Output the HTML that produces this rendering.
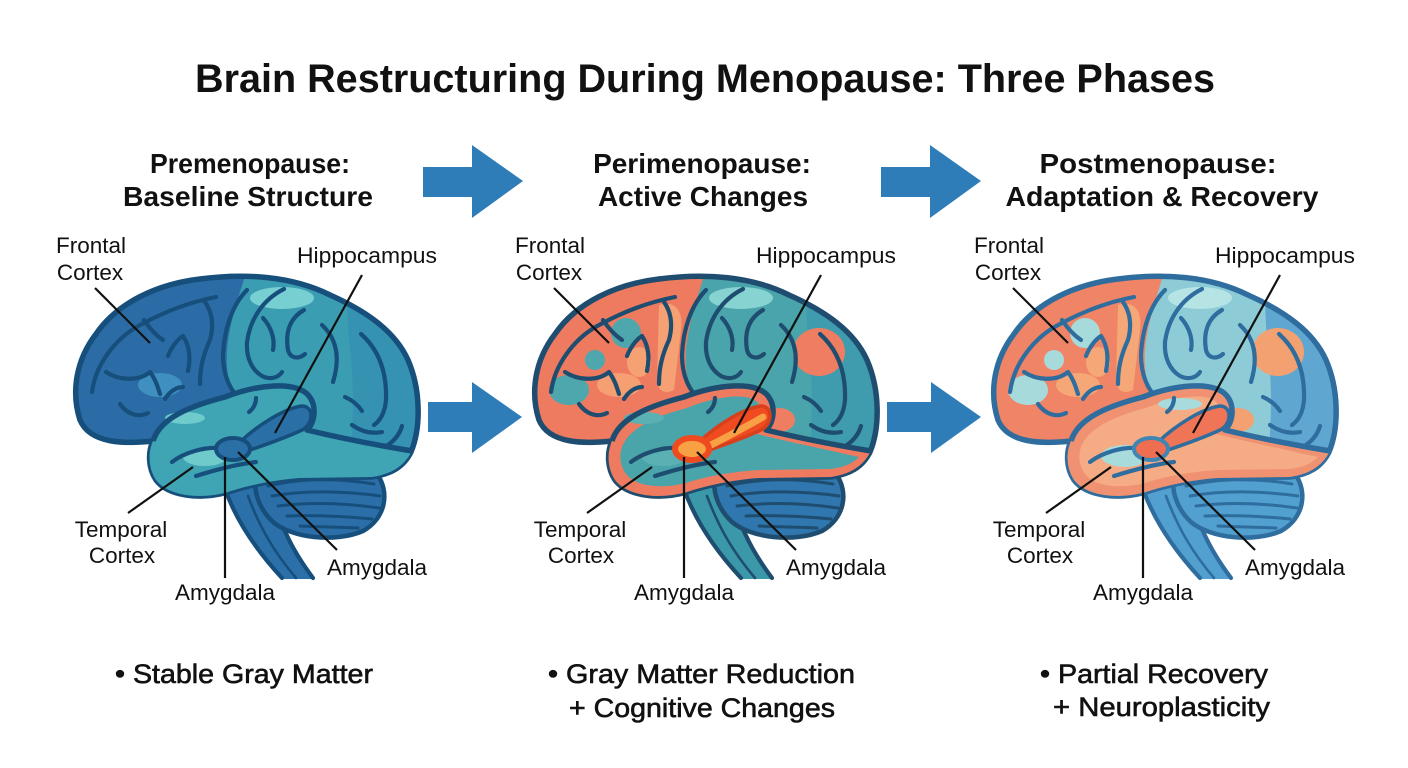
<!DOCTYPE html>
<html><head><meta charset="utf-8"><style>
html,body{margin:0;padding:0;background:#fff;}
svg{display:block;}
text{font-family:"Liberation Sans",Arial,sans-serif;fill:#111;}
.ln{fill:none;stroke:var(--ol);stroke-width:4.2;stroke-linecap:round;stroke-linejoin:round;}
.olw{fill:none;stroke:var(--ol);stroke-width:5.5;stroke-linejoin:round;}
.thin{stroke-width:2.6;}
.base{fill:var(--base);} .front{fill:var(--front);} .occ{fill:var(--occ);}
.phl{fill:var(--phl);} .fhl{fill:var(--fhl);}
.pA{fill:var(--pA);} .pB{fill:var(--pB);} .pC{fill:var(--pC);} .pD{fill:var(--pD);} .pE{fill:var(--pE);}
.tr{fill:var(--tr);} .ti{fill:var(--ti);}
.hole{fill:var(--hole);stroke:var(--holes);stroke-width:3.5;}
.hip{fill:none;stroke:var(--hip);stroke-width:7;stroke-linecap:round;}
.amy{fill:var(--amy);stroke:var(--amys);stroke-width:var(--amysw);}
.cb{fill:var(--cb);stroke:var(--ol);stroke-width:4.5;}
.stem{fill:var(--stem);}
.lead{stroke:#111;stroke-width:2.2;fill:none;}
.b1{--ol:#174f7c;--base:#3b9db2;--front:#2b6ca6;--occ:#3592b0;--phl:#78cfd2;--fhl:#3f8fc0;--pA:none;--pB:none;--pC:none;--pD:none;--tr:#3fa4b3;--ti:#3fa4b3;--pE:#6fcacb;--hole:#2a6fa6;--holes:#174f7c;--hip:none;--amy:#2a6fa6;--amys:#174f7c;--amysw:4;--cb:#2c6fa8;--stem:#2b70a8;}
.b2{--ol:#1f4d70;--base:#4aa4ab;--front:#ee7a60;--occ:#3f9bae;--phl:#86d3d1;--fhl:#f59f72;--pA:#4ea7ad;--pB:#f6a173;--pC:#ef7d62;--pD:#ef7d62;--tr:#ee7a60;--ti:#4aa5ab;--pE:#5bb0b4;--hole:#ef4a20;--holes:#d8401c;--hip:#f8a043;--amy:#f8a144;--amys:#ef4a20;--amysw:6;--cb:#2f77ae;--stem:#3b98a8;}
.b3{--ol:#2e6d9e;--base:#8dcbd7;--front:#f08466;--occ:#5fa6d0;--phl:#b6e3e4;--fhl:#f6a777;--pA:#a6dadb;--pB:#f6a777;--pC:#f4a172;--pD:#f4a172;--tr:#f09272;--ti:#f5ab83;--pE:#a8dcdc;--hole:#ef7556;--holes:#2e6d9e;--hip:none;--amy:#ef6d50;--amys:#3f86b5;--amysw:4;--cb:#52a0cf;--stem:#52a0cf;}
</style></head><body>
<svg width="1408" height="768" viewBox="0 0 1408 768" xmlns="http://www.w3.org/2000/svg">
<defs>
<clipPath id="cc"><path d="M 153 441 C 125 444 90 444 80 420 C 71 392 76 360 96 334 C 118 302 158 284 200 279 C 245 273 292 276 330 295 C 366 311 395 331 408 360 C 421 390 421 428 411 452 C 403 468 390 474 372 477 L 300 478 C 272 480 246 486 228 492 C 200 500 168 496 156 480 C 148 468 148 452 153 441 Z"/></clipPath>
</defs>
<rect width="1408" height="768" fill="#fff"/>

<text x="705" y="92" text-anchor="middle" font-size="40" font-weight="700" textLength="1020" lengthAdjust="spacingAndGlyphs">Brain Restructuring During Menopause: Three Phases</text>

<!-- headers -->
<g font-size="28" font-weight="700" text-anchor="middle">
<text x="250" y="173" textLength="200" lengthAdjust="spacingAndGlyphs">Premenopause:</text>
<text x="248" y="206" textLength="250" lengthAdjust="spacingAndGlyphs">Baseline Structure</text>
<text x="702" y="173">Perimenopause:</text>
<text x="703" y="206">Active Changes</text>
<text x="1158" y="173" textLength="237" lengthAdjust="spacingAndGlyphs">Postmenopause:</text>
<text x="1162" y="206" textLength="313" lengthAdjust="spacingAndGlyphs">Adaptation &amp; Recovery</text>
</g>

<!-- arrows -->
<g fill="#2e7db9">
<polygon points="423,167 472,167 472,145 523,181 472,218 472,197 423,197"/>
<polygon points="881,167 930,167 930,145 981,181 930,218 930,197 881,197"/>
<polygon points="428,402 472,402 472,382 522,417 472,453 472,432 428,432"/>
<polygon points="887,402 931,402 931,382 981,417 931,453 931,432 887,432"/>
</g>

<!-- BRAIN 1 -->
<g class="b1">
<path class="stem" d="M 224 486 C 236 522 258 552 282 579 L 313 579 C 292 550 276 520 272 482 Z"/>
<path class="ln" d="M 224 486 C 236 522 258 552 282 578"/>
<path class="ln" d="M 272 482 C 276 520 292 550 313 578"/>
<path class="ln thin" d="M 248 496 C 260 528 274 552 296 578"/>
<path class="cb" d="M 256 478 C 280 466 340 464 377 474 C 390 492 386 518 363 531 C 335 543 292 538 273 522 C 260 510 253 492 256 478 Z"/>
<g class="ln" style="stroke-width:3">
<path d="M 268 486 C 300 478 340 478 374 484"/><path d="M 272 496 C 305 490 345 491 380 496"/><path d="M 278 506 C 310 502 345 503 379 508"/><path d="M 287 516 C 315 515 342 516 372 519"/><path d="M 300 526 C 320 527 340 527 358 528"/>
</g>
<g clip-path="url(#cc)">
<rect class="base" x="60" y="260" width="380" height="250"/>
<path class="front" d="M 60 260 L 250 260 C 238 300 222 340 228 375 C 232 395 240 410 250 420 L 60 460 Z"/>
<path class="occ" d="M 350 260 L 440 260 L 440 500 L 345 500 C 352 450 356 400 350 350 C 347 320 346 290 350 260 Z"/>
<ellipse class="phl" cx="282" cy="298" rx="32" ry="11"/>
<ellipse class="fhl" cx="160" cy="385" rx="22" ry="12"/>
<ellipse class="pA" cx="110" cy="390" rx="20" ry="15"/>
<ellipse class="pA" cx="167" cy="333" rx="15" ry="15"/>
<ellipse class="pA" cx="136" cy="360" rx="10" ry="10"/>
<path class="pB" d="M 200 305 C 215 300 225 310 222 330 L 215 390 C 205 395 198 390 198 380 Z"/>
<ellipse class="pB" cx="180" cy="362" rx="12" ry="15"/>
<ellipse class="pC" cx="360" cy="352" rx="26" ry="24"/>
<ellipse class="pD" cx="320" cy="420" rx="16" ry="12"/>
</g>
<path class="olw" d="M 153 441 C 125 444 90 444 80 420 C 71 392 76 360 96 334 C 118 302 158 284 200 279 C 245 273 292 276 330 295 C 366 311 395 331 408 360 C 421 390 421 428 411 452 C 403 468 390 474 372 477 L 300 478 C 272 480 246 486 228 492 C 200 500 168 496 156 480 C 148 468 148 452 153 441 Z"/>
<g class="ln">
<path d="M 92 392 C 96 362 118 336 142 324 C 166 311 190 302 216 297"/>
<path d="M 247 290 C 232 305 224 330 223 355 C 223 375 230 392 242 400"/>
<path d="M 284 289 C 262 300 250 320 247 342 C 246 358 252 370 262 376 C 270 380 278 378 282 372"/>
<path d="M 304 310 C 290 318 285 332 288 350 C 290 358 298 360 305 354"/>
<path d="M 322 325 C 336 338 341 356 333 382"/>
<path d="M 361 334 C 379 350 387 372 386 400 C 385 412 381 420 374 425"/>
<path d="M 345 397 C 352 400 358 405 362 411"/>
<path d="M 388 445 C 395 440 400 433 402 426"/>
<path d="M 106 372 C 118 380 138 382 150 372 C 156 380 158 388 160 394"/>
<path d="M 120 404 C 127 414 138 418 148 413"/>
<path d="M 168 356 C 172 346 178 339 183 336 C 189 345 191 357 188 371"/>
<path d="M 144 320 C 150 329 157 336 163 340"/>
<path d="M 205 302 C 212 312 214 325 210 340 C 203 355 200 368 200 384"/>
<path d="M 165 399 C 170 391 177 387 183 387"/>
<path d="M 263 318 C 272 328 275 340 273 350"/>
<path d="M 352 425 C 362 432 372 434 382 432"/>
</g>
<path class="tr" d="M 153 441 C 160 418 190 406 225 397 C 256 385 296 380 309 396 C 317 406 315 422 307 430 C 336 437 376 445 412 451 C 403 468 390 474 372 477 L 300 478 C 272 480 246 486 228 492 C 200 500 168 496 156 480 C 148 468 148 452 153 441 Z"/>
<path class="ti" d="M 163 447 C 170 428 197 416 228 408 C 257 396 290 392 299 403 C 304 412 302 425 294 433 C 330 442 370 450 400 457 C 392 465 382 468 370 469 L 300 470 C 270 472 245 477 227 483 C 203 489 178 487 168 475 C 161 467 160 456 163 447 Z"/>
<ellipse class="pE" cx="185" cy="418" rx="20" ry="6"/>
<ellipse class="pE" cx="205" cy="457" rx="22" ry="9"/>
<path class="olw" d="M 153 441 C 160 418 190 406 225 397 C 256 385 296 380 309 396 C 317 406 315 422 307 430 C 336 437 376 445 412 451"/>
<g class="ln">
<path d="M 172 462 C 185 452 205 447 218 448"/>
<path d="M 196 476 C 215 470 238 464 256 462"/>
<path d="M 256 398 C 256 404 253 409 249 412"/>
</g>
<path class="hole" d="M 240 442 C 258 425 285 408 302 406 C 314 406 314 424 302 430 C 285 438 262 446 244 452 Z"/>
<path class="hip" d="M 252 445 C 270 436 290 425 304 417"/>
<ellipse class="amy" cx="233" cy="449" rx="17" ry="11"/>
<g class="lead">
<line x1="95" y1="288" x2="150" y2="343"/><line x1="362" y1="275" x2="275" y2="433"/><line x1="128" y1="513" x2="193" y2="467"/><line x1="225" y1="457" x2="225" y2="578"/><line x1="238" y1="452" x2="337" y2="550"/>
</g>
<g font-size="22.5" text-anchor="middle">
<text x="91" y="253">Frontal</text><text x="90" y="280">Cortex</text>
<text x="367" y="263" textLength="140" lengthAdjust="spacingAndGlyphs">Hippocampus</text>
<text x="121" y="537">Temporal</text><text x="122" y="563">Cortex</text>
<text x="225" y="600">Amygdala</text><text x="377" y="575">Amygdala</text>
</g>
</g>

<!-- BRAIN 2 -->
<g class="b2" transform="translate(459,0)">
<path class="stem" d="M 224 486 C 236 522 258 552 282 579 L 313 579 C 292 550 276 520 272 482 Z"/>
<path class="ln" d="M 224 486 C 236 522 258 552 282 578"/>
<path class="ln" d="M 272 482 C 276 520 292 550 313 578"/>
<path class="ln thin" d="M 248 496 C 260 528 274 552 296 578"/>
<path class="cb" d="M 256 478 C 280 466 340 464 377 474 C 390 492 386 518 363 531 C 335 543 292 538 273 522 C 260 510 253 492 256 478 Z"/>
<g class="ln" style="stroke-width:3">
<path d="M 268 486 C 300 478 340 478 374 484"/><path d="M 272 496 C 305 490 345 491 380 496"/><path d="M 278 506 C 310 502 345 503 379 508"/><path d="M 287 516 C 315 515 342 516 372 519"/><path d="M 300 526 C 320 527 340 527 358 528"/>
</g>
<g clip-path="url(#cc)">
<rect class="base" x="60" y="260" width="380" height="250"/>
<path class="front" d="M 60 260 L 250 260 C 238 300 222 340 228 375 C 232 395 240 410 250 420 L 60 460 Z"/>
<path class="occ" d="M 350 260 L 440 260 L 440 500 L 345 500 C 352 450 356 400 350 350 C 347 320 346 290 350 260 Z"/>
<ellipse class="phl" cx="282" cy="298" rx="32" ry="11"/>
<ellipse class="fhl" cx="160" cy="385" rx="22" ry="12"/>
<ellipse class="pA" cx="110" cy="390" rx="20" ry="15"/>
<ellipse class="pA" cx="167" cy="333" rx="15" ry="15"/>
<ellipse class="pA" cx="136" cy="360" rx="10" ry="10"/>
<path class="pB" d="M 200 305 C 215 300 225 310 222 330 L 215 390 C 205 395 198 390 198 380 Z"/>
<ellipse class="pB" cx="180" cy="362" rx="12" ry="15"/>
<ellipse class="pC" cx="360" cy="352" rx="26" ry="24"/>
<ellipse class="pD" cx="320" cy="420" rx="16" ry="12"/>
</g>
<path class="olw" d="M 153 441 C 125 444 90 444 80 420 C 71 392 76 360 96 334 C 118 302 158 284 200 279 C 245 273 292 276 330 295 C 366 311 395 331 408 360 C 421 390 421 428 411 452 C 403 468 390 474 372 477 L 300 478 C 272 480 246 486 228 492 C 200 500 168 496 156 480 C 148 468 148 452 153 441 Z"/>
<g class="ln">
<path d="M 92 392 C 96 362 118 336 142 324 C 166 311 190 302 216 297"/>
<path d="M 247 290 C 232 305 224 330 223 355 C 223 375 230 392 242 400"/>
<path d="M 284 289 C 262 300 250 320 247 342 C 246 358 252 370 262 376 C 270 380 278 378 282 372"/>
<path d="M 304 310 C 290 318 285 332 288 350 C 290 358 298 360 305 354"/>
<path d="M 322 325 C 336 338 341 356 333 382"/>
<path d="M 361 334 C 379 350 387 372 386 400 C 385 412 381 420 374 425"/>
<path d="M 345 397 C 352 400 358 405 362 411"/>
<path d="M 388 445 C 395 440 400 433 402 426"/>
<path d="M 106 372 C 118 380 138 382 150 372 C 156 380 158 388 160 394"/>
<path d="M 120 404 C 127 414 138 418 148 413"/>
<path d="M 168 356 C 172 346 178 339 183 336 C 189 345 191 357 188 371"/>
<path d="M 144 320 C 150 329 157 336 163 340"/>
<path d="M 205 302 C 212 312 214 325 210 340 C 203 355 200 368 200 384"/>
<path d="M 165 399 C 170 391 177 387 183 387"/>
<path d="M 263 318 C 272 328 275 340 273 350"/>
<path d="M 352 425 C 362 432 372 434 382 432"/>
</g>
<path class="tr" d="M 153 441 C 160 418 190 406 225 397 C 256 385 296 380 309 396 C 317 406 315 422 307 430 C 336 437 376 445 412 451 C 403 468 390 474 372 477 L 300 478 C 272 480 246 486 228 492 C 200 500 168 496 156 480 C 148 468 148 452 153 441 Z"/>
<path class="ti" d="M 163 447 C 170 428 197 416 228 408 C 257 396 290 392 299 403 C 304 412 302 425 294 433 C 330 442 370 450 400 457 C 392 465 382 468 370 469 L 300 470 C 270 472 245 477 227 483 C 203 489 178 487 168 475 C 161 467 160 456 163 447 Z"/>
<ellipse class="pE" cx="185" cy="418" rx="20" ry="6"/>
<ellipse class="pE" cx="205" cy="457" rx="22" ry="9"/>
<path class="olw" d="M 153 441 C 160 418 190 406 225 397 C 256 385 296 380 309 396 C 317 406 315 422 307 430 C 336 437 376 445 412 451"/>
<g class="ln">
<path d="M 172 462 C 185 452 205 447 218 448"/>
<path d="M 196 476 C 215 470 238 464 256 462"/>
<path d="M 256 398 C 256 404 253 409 249 412"/>
</g>
<path class="hole" d="M 240 442 C 258 425 285 408 302 406 C 314 406 314 424 302 430 C 285 438 262 446 244 452 Z"/>
<path class="hip" d="M 252 445 C 270 436 290 425 304 417"/>
<ellipse class="amy" cx="233" cy="449" rx="17" ry="11"/>
<g class="lead">
<line x1="95" y1="288" x2="150" y2="343"/><line x1="362" y1="275" x2="275" y2="433"/><line x1="128" y1="513" x2="193" y2="467"/><line x1="225" y1="457" x2="225" y2="578"/><line x1="238" y1="452" x2="337" y2="550"/>
</g>
<g font-size="22.5" text-anchor="middle">
<text x="91" y="253">Frontal</text><text x="90" y="280">Cortex</text>
<text x="367" y="263" textLength="140" lengthAdjust="spacingAndGlyphs">Hippocampus</text>
<text x="121" y="537">Temporal</text><text x="122" y="563">Cortex</text>
<text x="225" y="600">Amygdala</text><text x="377" y="575">Amygdala</text>
</g>
</g>

<!-- BRAIN 3 -->
<g class="b3" transform="translate(918,0)">
<path class="stem" d="M 224 486 C 236 522 258 552 282 579 L 313 579 C 292 550 276 520 272 482 Z"/>
<path class="ln" d="M 224 486 C 236 522 258 552 282 578"/>
<path class="ln" d="M 272 482 C 276 520 292 550 313 578"/>
<path class="ln thin" d="M 248 496 C 260 528 274 552 296 578"/>
<path class="cb" d="M 256 478 C 280 466 340 464 377 474 C 390 492 386 518 363 531 C 335 543 292 538 273 522 C 260 510 253 492 256 478 Z"/>
<g class="ln" style="stroke-width:3">
<path d="M 268 486 C 300 478 340 478 374 484"/><path d="M 272 496 C 305 490 345 491 380 496"/><path d="M 278 506 C 310 502 345 503 379 508"/><path d="M 287 516 C 315 515 342 516 372 519"/><path d="M 300 526 C 320 527 340 527 358 528"/>
</g>
<g clip-path="url(#cc)">
<rect class="base" x="60" y="260" width="380" height="250"/>
<path class="front" d="M 60 260 L 250 260 C 238 300 222 340 228 375 C 232 395 240 410 250 420 L 60 460 Z"/>
<path class="occ" d="M 350 260 L 440 260 L 440 500 L 345 500 C 352 450 356 400 350 350 C 347 320 346 290 350 260 Z"/>
<ellipse class="phl" cx="282" cy="298" rx="32" ry="11"/>
<ellipse class="fhl" cx="160" cy="385" rx="22" ry="12"/>
<ellipse class="pA" cx="110" cy="390" rx="20" ry="15"/>
<ellipse class="pA" cx="167" cy="333" rx="15" ry="15"/>
<ellipse class="pA" cx="136" cy="360" rx="10" ry="10"/>
<path class="pB" d="M 200 305 C 215 300 225 310 222 330 L 215 390 C 205 395 198 390 198 380 Z"/>
<ellipse class="pB" cx="180" cy="362" rx="12" ry="15"/>
<ellipse class="pC" cx="360" cy="352" rx="26" ry="24"/>
<ellipse class="pD" cx="320" cy="420" rx="16" ry="12"/>
</g>
<path class="olw" d="M 153 441 C 125 444 90 444 80 420 C 71 392 76 360 96 334 C 118 302 158 284 200 279 C 245 273 292 276 330 295 C 366 311 395 331 408 360 C 421 390 421 428 411 452 C 403 468 390 474 372 477 L 300 478 C 272 480 246 486 228 492 C 200 500 168 496 156 480 C 148 468 148 452 153 441 Z"/>
<g class="ln">
<path d="M 92 392 C 96 362 118 336 142 324 C 166 311 190 302 216 297"/>
<path d="M 247 290 C 232 305 224 330 223 355 C 223 375 230 392 242 400"/>
<path d="M 284 289 C 262 300 250 320 247 342 C 246 358 252 370 262 376 C 270 380 278 378 282 372"/>
<path d="M 304 310 C 290 318 285 332 288 350 C 290 358 298 360 305 354"/>
<path d="M 322 325 C 336 338 341 356 333 382"/>
<path d="M 361 334 C 379 350 387 372 386 400 C 385 412 381 420 374 425"/>
<path d="M 345 397 C 352 400 358 405 362 411"/>
<path d="M 388 445 C 395 440 400 433 402 426"/>
<path d="M 106 372 C 118 380 138 382 150 372 C 156 380 158 388 160 394"/>
<path d="M 120 404 C 127 414 138 418 148 413"/>
<path d="M 168 356 C 172 346 178 339 183 336 C 189 345 191 357 188 371"/>
<path d="M 144 320 C 150 329 157 336 163 340"/>
<path d="M 205 302 C 212 312 214 325 210 340 C 203 355 200 368 200 384"/>
<path d="M 165 399 C 170 391 177 387 183 387"/>
<path d="M 263 318 C 272 328 275 340 273 350"/>
<path d="M 352 425 C 362 432 372 434 382 432"/>
</g>
<path class="tr" d="M 153 441 C 160 418 190 406 225 397 C 256 385 296 380 309 396 C 317 406 315 422 307 430 C 336 437 376 445 412 451 C 403 468 390 474 372 477 L 300 478 C 272 480 246 486 228 492 C 200 500 168 496 156 480 C 148 468 148 452 153 441 Z"/>
<path class="ti" d="M 163 447 C 170 428 197 416 228 408 C 257 396 290 392 299 403 C 304 412 302 425 294 433 C 330 442 370 450 400 457 C 392 465 382 468 370 469 L 300 470 C 270 472 245 477 227 483 C 203 489 178 487 168 475 C 161 467 160 456 163 447 Z"/>
<ellipse class="pE" cx="262" cy="404" rx="22" ry="6"/>
<ellipse class="pE" cx="207" cy="456" rx="24" ry="11"/>
<path class="olw" d="M 153 441 C 160 418 190 406 225 397 C 256 385 296 380 309 396 C 317 406 315 422 307 430 C 336 437 376 445 412 451"/>
<g class="ln">
<path d="M 172 462 C 185 452 205 447 218 448"/>
<path d="M 196 476 C 215 470 238 464 256 462"/>
<path d="M 256 398 C 256 404 253 409 249 412"/>
</g>
<path class="hole" d="M 240 442 C 258 425 285 408 302 406 C 314 406 314 424 302 430 C 285 438 262 446 244 452 Z"/>
<ellipse class="amy" cx="233" cy="449" rx="17" ry="11"/>
<g class="lead">
<line x1="95" y1="288" x2="150" y2="343"/><line x1="362" y1="275" x2="275" y2="433"/><line x1="128" y1="513" x2="193" y2="467"/><line x1="225" y1="457" x2="225" y2="578"/><line x1="238" y1="452" x2="337" y2="550"/>
</g>
<g font-size="22.5" text-anchor="middle">
<text x="91" y="253">Frontal</text><text x="90" y="280">Cortex</text>
<text x="367" y="263" textLength="140" lengthAdjust="spacingAndGlyphs">Hippocampus</text>
<text x="121" y="537">Temporal</text><text x="122" y="563">Cortex</text>
<text x="225" y="600">Amygdala</text><text x="377" y="575">Amygdala</text>
</g>
</g>

<!-- bottom bullets -->
<g font-size="27" stroke="#111" stroke-width="0.6">
<text x="115" y="683" textLength="258" lengthAdjust="spacingAndGlyphs">• Stable Gray Matter</text>
<text x="548" y="683" textLength="307" lengthAdjust="spacingAndGlyphs">• Gray Matter Reduction</text>
<text x="569" y="717" textLength="266" lengthAdjust="spacingAndGlyphs">+ Cognitive Changes</text>
<text x="1040" y="683" textLength="228" lengthAdjust="spacingAndGlyphs">• Partial Recovery</text>
<text x="1053" y="716" textLength="217" lengthAdjust="spacingAndGlyphs">+ Neuroplasticity</text>
</g>
</svg>
</body></html>
